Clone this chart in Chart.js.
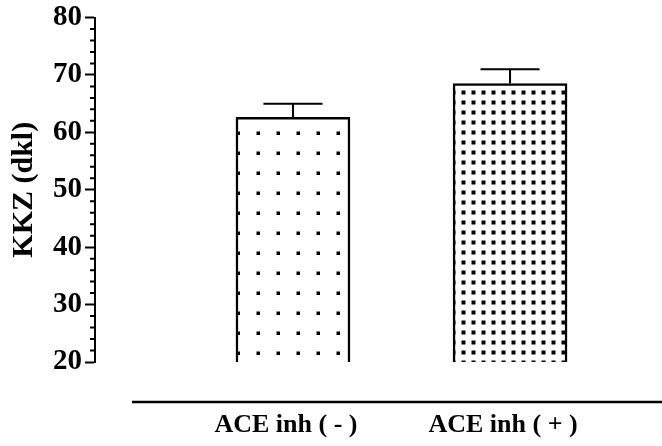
<!DOCTYPE html>
<html>
<head>
<meta charset="utf-8">
<script src="https://cdn.jsdelivr.net/npm/chart.js@4/dist/chart.umd.min.js"></script>
<style>
  body { margin: 0; background: #fff; }
</style>
</head>
<body>
<canvas id="myChart" width="662" height="446"></canvas>
<script>
'use strict';

// data
let categories = ['ACE inh ( - )', 'ACE inh ( + )'];
let means = [62.6, 68.5];
let errors = [2.4, 2.5];
let yTicks = [20, 30, 40, 50, 60, 70, 80];

// dotted fills
function makePattern(size, dot, ox, oy){
  let c = document.createElement('canvas');
  c.width = size;
  c.height = size;
  let g = c.getContext('2d');
  g.fillStyle = '#fff';
  g.fillRect(0, 0, size, size);
  g.fillStyle = '#000';
  g.fillRect(ox, oy, dot, dot);
  return document.getElementById('myChart').getContext('2d').createPattern(c, 'repeat');
}
let sparseDots = makePattern(20, 3.5, 16.5, 11.5);
let denseDots = makePattern(10, 4, 1.5, 0.5);

// error bars + minor ticks + the loose baseline under the bars
let extras = {
  id: 'extras',
  afterDatasetsDraw(chart){
    let ctx = chart.ctx;
    let y = chart.scales.y;
    let bars = chart.getDatasetMeta(0).data;
    ctx.save();
    ctx.strokeStyle = '#000';
    ctx.lineWidth = 2;
    for(let i = 0; i < bars.length; i++){
      let top = y.getPixelForValue(means[i] + errors[i]);
      ctx.beginPath();
      ctx.moveTo(bars[i].x, bars[i].y);
      ctx.lineTo(bars[i].x, top);
      ctx.moveTo(bars[i].x - 29.5, top);
      ctx.lineTo(bars[i].x + 29.5, top);
      ctx.stroke();
    }
    ctx.restore();
  },
  afterDraw(chart){
    let ctx = chart.ctx;
    let y = chart.scales.y;
    let x = chart.scales.x;
    ctx.save();
    ctx.strokeStyle = '#000';
    ctx.lineWidth = 2;
    ctx.beginPath();
    y.ticks.forEach(function(t){
      if(t.value % 10 !== 0){
        let py = y.getPixelForValue(t.value);
        ctx.moveTo(y.right - 5, py);
        ctx.lineTo(y.right, py);
      }
    });
    ctx.stroke();
    // x axis line, drawn apart from the plot like in the original
    let by = x.top + 40;
    ctx.lineWidth = 2.5;
    ctx.beginPath();
    ctx.moveTo(x.left + 37, by);
    ctx.lineTo(chart.width, by);
    ctx.stroke();
    ctx.restore();
  }
};

new Chart(document.getElementById('myChart'), {
  type: 'bar',
  data: {
    labels: categories,
    datasets: [{
      data: means.map((v, i) => ({x: i + 1, y: v})),
      backgroundColor: [sparseDots, denseDots],
      borderColor: '#000',
      borderWidth: 2.5,
      borderSkipped: false,
      barThickness: 114
    }]
  },
  options: {
    responsive: false,
    animation: false,
    devicePixelRatio: 1,
    layout: { padding: { top: 16.5, right: 0, bottom: 0, left: 0 } },
    plugins: { legend: { display: false }, tooltip: { enabled: false } },
    scales: {
      x: {
        type: 'linear',
        offset: false,
        min: 0.088,
        max: 2.7,
        grid: { display: false, drawTicks: false },
        border: { display: false },
        afterBuildTicks(scale){
          scale.ticks = categories.map((c, i) => ({value: i + 1}));
        },
        afterFit(scale){ scale.height = 84; },
        ticks: {
          autoSkip: false,
          maxRotation: 0,
          padding: 48,
          labelOffset: -7,
          color: '#000',
          font: { family: 'Liberation Serif', size: 26, weight: 'bold' },
          callback: v => categories[v - 1] || ''
        }
      },
      y: {
        min: 20,
        max: 80,
        border: { display: true, color: '#000', width: 2 },
        grid: {
          drawOnChartArea: false,
          drawTicks: true,
          tickLength: 10,
          tickWidth: 2,
          color: c => (c.tick && c.tick.value % 10 === 0) ? '#000' : 'rgba(0,0,0,0)'
        },
        afterFit(scale){ scale.width = 95; },
        ticks: {
          stepSize: 2,
          autoSkip: false,
          padding: 3,
          color: '#000',
          font: { family: 'Liberation Serif', size: 29, weight: 'bold', lineHeight: 1 },
          callback: v => yTicks.includes(v) ? v : ''
        },
        title: {
          display: true,
          text: 'KKZ (dkl)',
          color: '#000',
          padding: { top: 6, bottom: 0 },
          font: { family: 'Liberation Serif', size: 30, weight: 'bold' }
        }
      }
    }
  },
  plugins: [extras]
});
</script>
</body>
</html>
